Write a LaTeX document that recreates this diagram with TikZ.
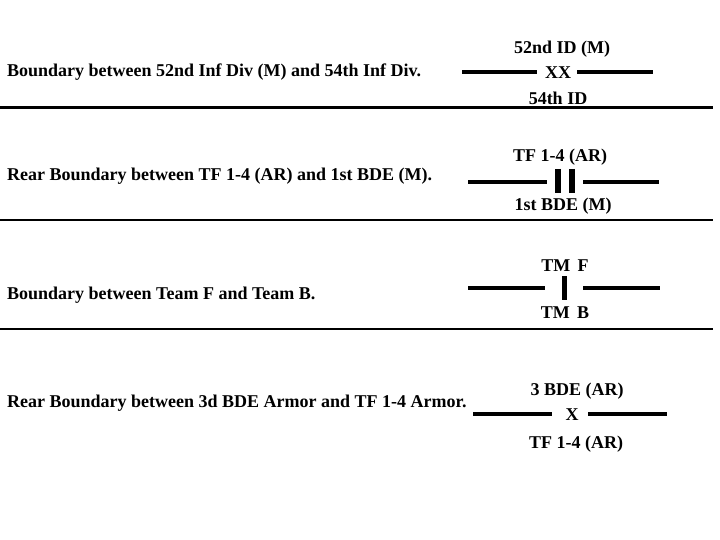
\documentclass[tikz,border=0pt]{standalone}
\usepackage{fontspec}
\setmainfont{Liberation Serif}
\usetikzlibrary{positioning}

\begin{document}
\begin{tikzpicture}[x=1bp,y=-1bp,
  txt/.style={font=\fontsize{18bp}{20bp}\selectfont\bfseries, inner sep=0pt},
  bar/.style={line width=4.5bp},
  tick/.style={line width=6bp},
  rule/.style={line width=2.5bp}]
\useasboundingbox (0,0) rectangle (720,540);
% descriptions
\node[txt, anchor=west] (D1) at (7,72) {Boundary between 52nd Inf Div (M) and 54th Inf Div.};
\node[txt, anchor=west] (D2) at (7,176) {Rear Boundary between TF 1-4 (AR) and 1st BDE (M).};
\node[txt, anchor=west] (D3) at (7,295) {Boundary between Team F and Team B.};
\node[txt, anchor=west] (D4) at (7,403) {Rear Boundary between 3d BDE Armor and TF 1-4 Armor.};
% separators
\foreach \y in {107.5,220,329}
  \draw[rule] (0,\y) -- (713,\y);
% division boundary
\node[txt] (XX) at (558,73) {XX};
\node[txt] (T1) at (562,49) {52nd ID (M)};
\node[txt] (B1) at (558,98) {54th ID};
\coordinate (A1) at (462,72); \coordinate (A2) at (537,72);
\coordinate (A3) at (577,72); \coordinate (A4) at (653,72);
\draw[bar] (A1) -- (A2);
\draw[bar] (A3) -- (A4);
% brigade boundary
\node[txt] (T2) at (560,157) {TF 1-4 (AR)};
\node[txt] (B2) at (563,206) {1st BDE (M)};
\coordinate (C1) at (468,182); \coordinate (C2) at (547,182);
\coordinate (C3) at (583,182); \coordinate (C4) at (659,182);
\draw[bar] (C1) -- (C2);
\draw[bar] (C3) -- (C4);
\draw[tick] (558,169) -- (558,193);
\draw[tick] (572,169) -- (572,193);
% company boundary
\node[txt] (T3) at (565,266) {TM\,\ F};
\node[txt] (B3) at (565,313) {TM\,\ B};
\coordinate (E1) at (468,288); \coordinate (E2) at (545,288);
\coordinate (E3) at (583,288); \coordinate (E4) at (660,288);
\draw[bar] (E1) -- (E2);
\draw[bar] (E3) -- (E4);
\draw[line width=5bp] (564,276) -- (564,300);
% rear brigade boundary
\node[txt] (X) at (572,415) {X};
\node[txt] (T4) at (577,391) {3 BDE (AR)};
\node[txt] (B4) at (576,444) {TF 1-4 (AR)};
\coordinate (F1) at (473,414); \coordinate (F2) at (552,414);
\coordinate (F3) at (588,414); \coordinate (F4) at (667,414);
\draw[bar] (F1) -- (F2);
\draw[bar] (F3) -- (F4);
\end{tikzpicture}
\end{document}
